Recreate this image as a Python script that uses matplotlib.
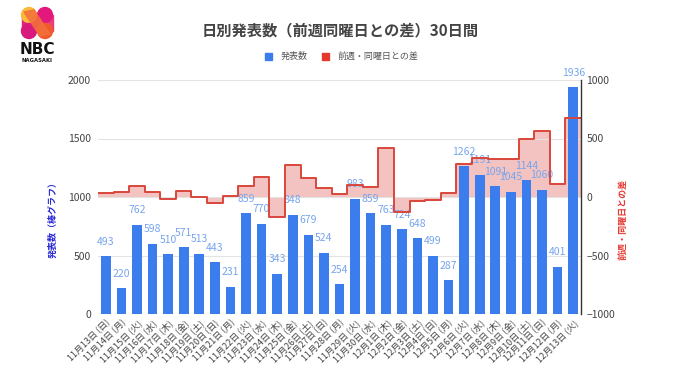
import matplotlib
matplotlib.use("Agg")
import matplotlib.pyplot as plt
from matplotlib.patches import Circle, Polygon, Rectangle
import numpy as np

plt.rcParams['font.family'] = ['Noto Sans CJK JP', 'DejaVu Sans']

# 日付ラベル
dates = ["11月13日 (日)", "11月14日 (月)", "11月15日 (火)", "11月16日 (水)", "11月17日 (木)",
         "11月18日 (金)", "11月19日 (土)", "11月20日 (日)", "11月21日 (月)", "11月22日 (火)",
         "11月23日 (水)", "11月24日 (木)", "11月25日 (金)", "11月26日 (土)", "11月27日 (日)",
         "11月28日 (月)", "11月29日 (火)", "11月30日 (水)", "12月1日 (木)", "12月2日 (金)",
         "12月3日 (土)", "12月4日 (日)", "12月5日 (月)", "12月6日 (火)", "12月7日 (水)",
         "12月8日 (木)", "12月9日 (金)", "12月10日 (土)", "12月11日 (日)", "12月12日 (月)",
         "12月13日 (火)"]

# 発表数
counts = [493, 220, 762, 598, 510, 571, 513, 443, 231, 859,
          770, 343, 848, 679, 524, 254, 983, 859, 763, 724,
          648, 499, 287, 1262, 1191, 1091, 1045, 1144, 1060, 401,
          1936]

# 前週・同曜日との差
diffs = [30, 40, 95, 40, -15, 55, 0, -50, 11, 97,
         172, -167, 277, 166, 81, 23, 105, 89, 420, -124,
         -31, -25, 33, 279, 332, 328, 321, 496, 561, 114,
         674]

left_ticks = [0, 500, 1000, 1500, 2000]
right_ticks = [-1000, -500, 0, 500, 1000]

BLUE = '#3b7ded'
RED = '#d9463b'
W, H = 680, 382

fig = plt.figure(figsize=(W / 100, H / 100), dpi=100)
fig.patch.set_facecolor('white')

pos = [98 / W, 1 - 314 / H, (581 - 98) / W, (314 - 80) / H]
ax_fill = fig.add_axes(pos)
ax = fig.add_axes(pos)
ax2 = fig.add_axes(pos)
ax_fill.set_zorder(0)
ax.set_zorder(1)
ax2.set_zorder(2)
ax.patch.set_visible(False)
ax2.patch.set_visible(False)

n = len(counts)
x = np.arange(n)
edges = np.arange(n + 1) - 0.5
ystep = diffs + [diffs[-1]]

# 差のエリア（棒の後ろ）
ax_fill.fill_between(edges, ystep, 0, step='post', color=RED, alpha=0.32, linewidth=0)
ax_fill.set_xlim(-0.5, n - 0.5)
ax_fill.set_ylim(-1000, 1000)
ax_fill.axis('off')

# 棒グラフ
ax.set_xlim(-0.5, n - 0.5)
ax.set_ylim(0, 2000)
ax.set_yticks(left_ticks)
for t in left_ticks:
    ax.axhline(t, color='#cccccc' if t == 0 else '#e3e3e3', lw=0.8, zorder=0)
ax.bar(x, counts, width=0.62, color=BLUE, zorder=2)
for xi, v in zip(x, counts):
    ax.annotate(str(v), (xi, v), xytext=(0, 10.5), textcoords='offset points',
                ha='center', va='center', fontsize=7.5, color='#77a5ee', zorder=5)
for s in ax.spines.values():
    s.set_visible(False)
ax.tick_params(axis='y', length=0, pad=5, labelsize=7.5, labelcolor='#444444')
ax.set_xticks(x)
ax.set_xticklabels(dates, rotation=45, ha='right', rotation_mode='anchor',
                   fontsize=6.5, color='#444444')
ax.tick_params(axis='x', length=0, pad=3)

# 差のステップライン
ax2.step(edges, ystep, where='post', color=RED, lw=1.4)
ax2.set_xlim(-0.5, n - 0.5)
ax2.set_ylim(-1000, 1000)
ax2.yaxis.tick_right()
ax2.set_yticks(right_ticks)
ax2.set_xticks([])
ax2.tick_params(axis='y', length=0, pad=4, labelsize=7.5, labelcolor='#444444')
for k, s in ax2.spines.items():
    s.set_visible(k == 'right')
ax2.spines['right'].set_color('#333333')
ax2.spines['right'].set_linewidth(1.0)

# タイトル・軸ラベル
fig.text(340 / W, 1 - 30 / H, "日別発表数（前週同曜日との差）30日間", ha='center', va='center',
         fontsize=11, fontweight='bold', color='#444444')
fig.text(53 / W, 1 - 218 / H, "発表数（棒グラフ）", rotation=90, ha='center', va='center',
         fontsize=6.5, fontweight='bold', color='#2a2ad8')
fig.text(623 / W, 1 - 219 / H, "前週・同曜日との差", rotation=90, ha='center', va='center',
         fontsize=6.5, fontweight='bold', color='#e53a33')

# 凡例
fig.patches.append(Rectangle((265 / W, 1 - 60 / H), 7 / W, 7 / H, transform=fig.transFigure,
                             color=BLUE, figure=fig))
fig.text(281 / W, 1 - 56.5 / H, "発表数", ha='left', va='center', fontsize=6.5, color='#555555')
fig.patches.append(Rectangle((322 / W, 1 - 60 / H), 7 / W, 7 / H, transform=fig.transFigure,
                             color='#e5392f', figure=fig))
fig.text(337 / W, 1 - 56.5 / H, "前週・同曜日との差", ha='left', va='center', fontsize=6.5,
         color='#555555')

# ロゴ
lg = fig.add_axes([15 / W, 1 - 70 / H, 45 / W, 70 / H])
lg.set_xlim(0, 45)
lg.set_ylim(70, 0)
lg.axis('off')
lg.add_patch(Rectangle((6.5, 15), 15, 16, color='#e3227a'))
lg.add_patch(Rectangle((22.5, 15), 15, 16, color='#e8306a', alpha=0.9))
lg.add_patch(Circle((14, 15), 7.5, color='#f9b93a'))
lg.add_patch(Circle((30, 15), 7.5, color='#e2187f'))
lg.add_patch(Circle((14, 31), 7.5, color='#d8197d'))
lg.add_patch(Circle((30, 31), 7.5, color='#f05a2c'))
lg.add_patch(Polygon([[9, 12], [19, 10], [35, 34], [25, 36]], color='#f2703a', alpha=0.85))
lg.text(22, 50, "NBC", ha='center', va='center', fontsize=11, fontweight='bold',
        color='#111111', family='DejaVu Sans')
lg.text(22, 61, "NAGASAKI", ha='center', va='center', fontsize=3.8, fontweight='bold',
        color='#111111', family='DejaVu Sans')

fig.savefig('out.png', dpi=100)
